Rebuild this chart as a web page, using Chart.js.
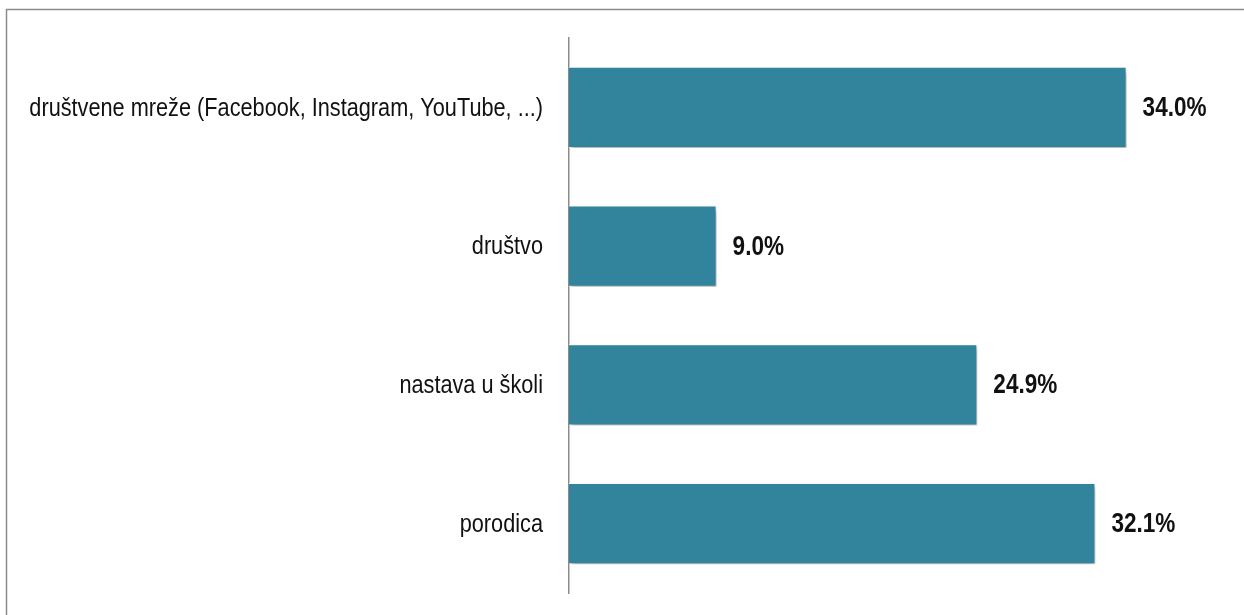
<!DOCTYPE html>
<html>
<head>
<meta charset="utf-8">
<script src="https://cdn.jsdelivr.net/npm/chart.js@4.4.1/dist/chart.umd.min.js"></script>
<style>
  html, body { margin: 0; padding: 0; background: #ffffff; }
  #wrap { width: 1244px; height: 615px; position: relative; }
</style>
</head>
<body>
<div id="wrap"><canvas id="c" width="1244" height="615"></canvas></div>
<script>
// Izvori informacija – udio odgovora (%)
const categories = [
  'društvene mreže (Facebook, Instagram, YouTube, ...)',
  'društvo',
  'nastava u školi',
  'porodica'
];
const shares = [34.0, 9.0, 24.9, 32.1];
const valueLabels = ['34.0%', '9.0%', '24.9%', '32.1%'];

const FONT = '"Liberation Sans", Arial, sans-serif';
const NARROW = 0.835; // horizontal squeeze for a narrow sans look

// draw text squeezed horizontally around its anchor
function narrowText(ctx, text, x, y, align) {
  ctx.save();
  ctx.translate(x, y);
  ctx.scale(NARROW, 1);
  ctx.textAlign = align;
  ctx.fillText(text, 0, 0);
  ctx.restore();
}

// outer frame of the chart box
const framePlugin = {
  id: 'frame',
  beforeDraw(chart) {
    const ctx = chart.ctx;
    ctx.save();
    ctx.strokeStyle = '#8c8c8c';
    ctx.lineWidth = 1.5;
    ctx.strokeRect(6.5, 9.5, chart.width + 20, chart.height + 20);
    ctx.restore();
  }
};

// soft drop shadow under the bars
const shadowPlugin = {
  id: 'barShadow',
  beforeDatasetsDraw(chart) {
    const ctx = chart.ctx;
    ctx.save();
    ctx.shadowColor = 'rgba(0,0,0,0.35)';
    ctx.shadowBlur = 5;
    ctx.shadowOffsetX = 2;
    ctx.shadowOffsetY = 3;
  },
  afterDatasetsDraw(chart) {
    chart.ctx.restore();
  }
};

// category names and value text in a narrow face
const textPlugin = {
  id: 'narrowText',
  afterDraw(chart) {
    const ctx = chart.ctx;
    const yScale = chart.scales.y;
    ctx.save();
    ctx.fillStyle = '#111111';
    ctx.textBaseline = 'middle';
    ctx.font = '26px ' + FONT;
    yScale.ticks.forEach((t, i) => {
      narrowText(ctx, categories[i], yScale.right - 26, yScale.getPixelForTick(i) + 1, 'right');
    });
    ctx.font = 'bold 27px ' + FONT;
    chart.getDatasetMeta(0).data.forEach((bar, i) => {
      narrowText(ctx, valueLabels[i], bar.x + 16, bar.y + 1, 'left');
    });
    ctx.restore();
  }
};

new Chart(document.getElementById('c'), {
  type: 'bar',
  data: {
    labels: categories,
    datasets: [{
      data: shares,
      backgroundColor: '#31849b',
      borderColor: '#ffffff',
      borderWidth: 1,
      barPercentage: 0.585,
      categoryPercentage: 1.0
    }]
  },
  options: {
    indexAxis: 'y',
    responsive: false,
    animation: false,
    layout: { padding: { left: 0, right: 19, top: 38, bottom: 22 } },
    plugins: {
      legend: { display: false },
      tooltip: { enabled: false }
    },
    scales: {
      x: {
        display: false,
        min: 0,
        max: 40
      },
      y: {
        afterFit(scale) { scale.width = 569; },
        grid: { display: false, drawTicks: false },
        border: { display: true, color: '#8c8c8c', width: 1.5 },
        ticks: {
          padding: 0,
          color: 'rgba(0,0,0,0)',
          font: { family: FONT, size: 8 }
        }
      }
    }
  },
  plugins: [framePlugin, shadowPlugin, textPlugin]
});
</script>
</body>
</html>
